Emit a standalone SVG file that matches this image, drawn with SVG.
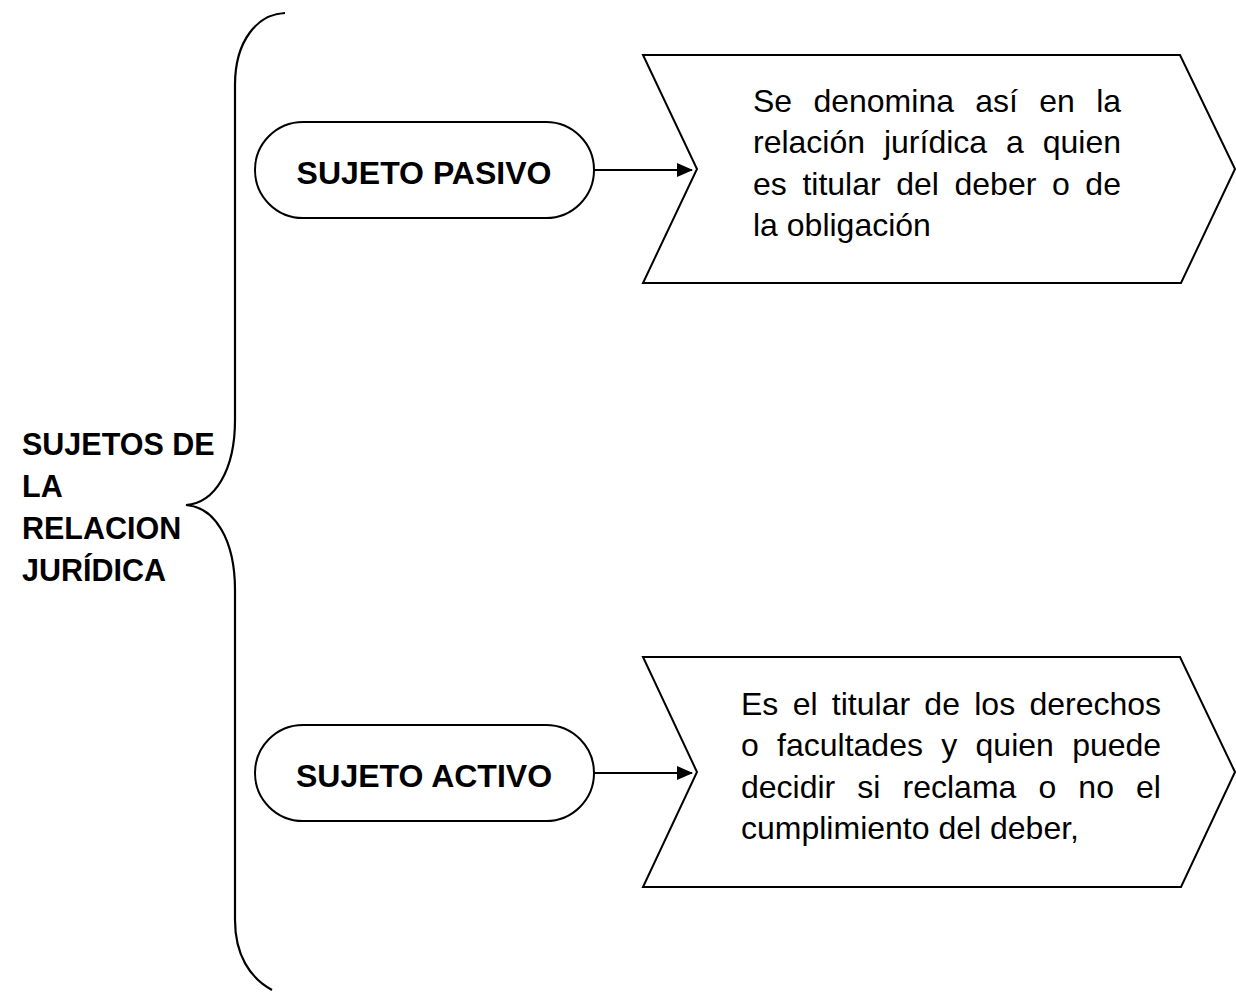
<svg xmlns="http://www.w3.org/2000/svg" width="1236" height="992" viewBox="0 0 1236 992">
<defs>
<marker id="ah" markerWidth="16" markerHeight="14" refX="15" refY="7" orient="auto" markerUnits="userSpaceOnUse">
<path d="M0,0 L16,7 L0,14 Z" fill="#000"/>
</marker>
<style>
.ln{fill:none;stroke:#000;stroke-width:2.2}
.shape{fill:#fff;stroke:#000;stroke-width:2}
.b{font-family:"Liberation Sans",Arial,sans-serif;font-weight:bold;font-size:32px;fill:#000}
.lb{font-family:"Liberation Sans",Arial,sans-serif;font-weight:bold;font-size:30.5px;fill:#000}
.t{font-family:"Liberation Sans",Arial,sans-serif;font-size:32px;fill:#000}
</style>
</defs>
<rect width="1236" height="992" fill="#fff"/>
<g id="brace">
<path class="ln" d="M285,13 C258,14 235,40 235,85 L235,420 C235,470 215,503 186,505 C215,507 235,540 235,590 L235,920 C235,955 250,978 272,990"/>
</g>
<g id="root">
<text class="lb" x="22"><tspan x="22" y="455">SUJETOS DE</tspan><tspan x="22" y="497">LA</tspan><tspan x="22" y="539">RELACION</tspan><tspan x="22" y="581">JURÍDICA</tspan></text>
</g>
<g id="pasivo">
<rect class="shape" x="255" y="122" width="339" height="96" rx="48" ry="48"/>
<text class="b" x="424" y="184" text-anchor="middle">SUJETO PASIVO</text>
</g>
<g id="activo">
<rect class="shape" x="255" y="725" width="339" height="96" rx="48" ry="48"/>
<text class="b" x="424" y="787" text-anchor="middle">SUJETO ACTIVO</text>
</g>
<g id="def-pasivo">
<path class="shape" d="M643,55 L1180,55 L1235,169 L1181,283 L643,283 L697,169 Z"/>
<text class="t"><tspan x="753" y="112" word-spacing="12.4">Se denomina así en la</tspan><tspan x="753" y="153" word-spacing="10">relación jurídica a quien</tspan><tspan x="753" y="195" word-spacing="6.7">es titular del deber o de</tspan><tspan x="753" y="236">la obligación</tspan></text>
</g>
<g id="def-activo">
<path class="shape" d="M643,657 L1180,657 L1235,772 L1181,887 L643,887 L697,772 Z"/>
<text class="t"><tspan x="741" y="715" word-spacing="5.4">Es el titular de los derechos</tspan><tspan x="741" y="756" word-spacing="9.4">o facultades y quien puede</tspan><tspan x="741" y="798" word-spacing="13.2">decidir si reclama o no el</tspan><tspan x="741" y="839">cumplimiento del deber,</tspan></text>
</g>
<g id="connectors">
<line class="ln" x1="594" y1="170" x2="692" y2="170" marker-end="url(#ah)"/>
<line class="ln" x1="594" y1="773" x2="692" y2="773" marker-end="url(#ah)"/>
</g>
</svg>
